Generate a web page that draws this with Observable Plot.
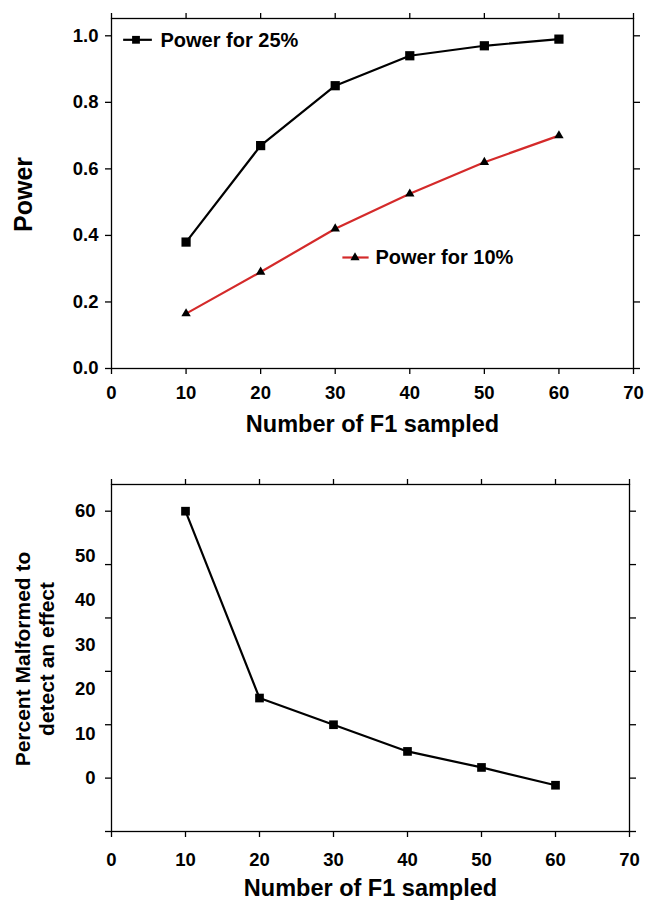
<!DOCTYPE html>
<html>
<head>
<meta charset="utf-8">
<script src="https://cdn.jsdelivr.net/npm/d3@7"></script>
<script src="https://cdn.jsdelivr.net/npm/@observablehq/plot@0.6"></script>
<style>
  html, body { margin: 0; padding: 0; background: #fff; }
  #chart { width: 645px; }
  #chart svg { display: block; }
</style>
</head>
<body>
<div id="chart"></div>
<script>
// ---- data ----
const sampleSizes = [10, 20, 30, 40, 50, 60];
const power25 = [0.38, 0.67, 0.85, 0.94, 0.97, 0.99];
const power10 = [0.165, 0.29, 0.42, 0.525, 0.62, 0.70];
const percentMalformed = [60, 18, 12, 6, 2.4, -1.6];

const xTicks = [0, 10, 20, 30, 40, 50, 60, 70];
const powerTicks = [0, 0.2, 0.4, 0.6, 0.8, 1.0];
const pctLabels = [0, 10, 20, 30, 40, 50, 60];
const pctTickMarks = [-12, 0, 12, 24, 36, 48, 60];

const legendLabels = ["Power for 25%", "Power for 10%"];
const xTitle = "Number of F1 sampled";
const powerTitle = "Power";
const pctTitle = "Percent Malformed to\ndetect an effect";

// ---- styling ----
const FONT = "'Liberation Sans', Arial, Helvetica, sans-serif";
const RED = "#d42a2a";
const LINE_W = 2.2;
const AXIS_W = 1.3;
const TICK_FS = 18.5;

const rows25 = sampleSizes.map((x, i) => ({x, y: power25[i]}));
const rows10 = sampleSizes.map((x, i) => ({x, y: power10[i]}));
const rowsPct = sampleSizes.map((x, i) => ({x, y: percentMalformed[i]}));

// horizontal line "symbol" used for legend keys
const hLine = {draw(ctx, size) { const h = Math.sqrt(size); ctx.moveTo(-h, 0); ctx.lineTo(h, 0); }};
const blank = () => "";

const baseStyle = {fontFamily: FONT, fontSize: TICK_FS + "px", fontWeight: "bold", color: "black", background: "white", overflow: "visible"};
const textStyle = {fontWeight: "bold", fill: "black", lineAnchor: "middle"};

const powerChart = Plot.plot({
  width: 645, height: 450,
  marginTop: 18, marginBottom: 82, marginLeft: 111, marginRight: 12,
  style: baseStyle,
  x: {domain: [0, 70], label: null},
  y: {domain: [0, 1.052], label: null},
  marks: [
    Plot.frame({stroke: "black", strokeWidth: AXIS_W}),
    Plot.axisX(xTicks, {anchor: "bottom", tickSize: 6, tickPadding: 11, strokeWidth: AXIS_W, fontSize: TICK_FS, label: null}),
    Plot.axisX(xTicks, {anchor: "top", tickSize: 6, tickFormat: blank, strokeWidth: AXIS_W, label: null}),
    Plot.axisY(powerTicks, {anchor: "left", tickSize: 6, tickPadding: 7, tickFormat: d3.format(".1f"), strokeWidth: AXIS_W, fontSize: TICK_FS, label: null}),
    Plot.axisY(powerTicks, {anchor: "right", tickSize: 6, tickFormat: blank, strokeWidth: AXIS_W, label: null}),
    Plot.line(rows25, {x: "x", y: "y", stroke: "black", strokeWidth: LINE_W}),
    Plot.dot(rows25, {x: "x", y: "y", symbol: d3.symbolSquare, r: 5.2, fill: "black", stroke: "none"}),
    Plot.line(rows10, {x: "x", y: "y", stroke: RED, strokeWidth: LINE_W}),
    Plot.dot(rows10, {x: "x", y: "y", symbol: d3.symbolTriangle, r: 3.5, fill: "black", stroke: "none"}),
    // legend 25%
    Plot.dot([legendLabels[0]], {frameAnchor: "top-left", dx: 26, dy: 21.3, symbol: hLine, r: 8.1, fill: "none", stroke: "black", strokeWidth: LINE_W}),
    Plot.dot([legendLabels[0]], {frameAnchor: "top-left", dx: 24.5, dy: 21.3, symbol: d3.symbolSquare, r: 4.4, fill: "black", stroke: "none"}),
    Plot.text([legendLabels[0]], {...textStyle, frameAnchor: "top-left", dx: 49, dy: 21.6, textAnchor: "start", fontSize: 20}),
    // legend 10%
    Plot.dot([legendLabels[1]], {frameAnchor: "top-left", dx: 244, dy: 239, symbol: hLine, r: 7.4, fill: "none", stroke: RED, strokeWidth: LINE_W}),
    Plot.dot([legendLabels[1]], {frameAnchor: "top-left", dx: 243.5, dy: 239, symbol: d3.symbolTriangle, r: 3.4, fill: "black", stroke: "none"}),
    Plot.text([legendLabels[1]], {...textStyle, frameAnchor: "top-left", dx: 264, dy: 239, textAnchor: "start", fontSize: 20}),
    // titles
    Plot.text([xTitle], {...textStyle, frameAnchor: "bottom", dy: 56.3, textAnchor: "middle", fontSize: 23.5}),
    Plot.text([powerTitle], {...textStyle, frameAnchor: "left", dx: -88, dy: 1, rotate: -90, textAnchor: "middle", fontSize: 25})
  ]
});

const pctChart = Plot.plot({
  width: 645, height: 450,
  marginTop: 34, marginBottom: 69, marginLeft: 111, marginRight: 16,
  style: baseStyle,
  x: {domain: [0, 70], label: null},
  y: {domain: [-12, 66], label: null},
  marks: [
    Plot.frame({stroke: "black", strokeWidth: AXIS_W}),
    Plot.axisX(xTicks, {anchor: "bottom", tickSize: 6, tickPadding: 15, strokeWidth: AXIS_W, fontSize: TICK_FS, label: null}),
    Plot.axisX(xTicks, {anchor: "top", tickSize: 6, tickFormat: blank, strokeWidth: AXIS_W, label: null}),
    Plot.axisY(pctTickMarks, {anchor: "left", tickSize: 6, tickFormat: blank, strokeWidth: AXIS_W, label: null}),
    Plot.axisY(pctTickMarks, {anchor: "right", tickSize: 6, tickFormat: blank, strokeWidth: AXIS_W, label: null}),
    Plot.axisY(pctLabels, {anchor: "left", tickSize: 0, tickPadding: 16, fontSize: TICK_FS, label: null}),
    Plot.line(rowsPct, {x: "x", y: "y", stroke: "black", strokeWidth: LINE_W}),
    Plot.dot(rowsPct, {x: "x", y: "y", symbol: d3.symbolSquare, r: 4.9, fill: "black", stroke: "none"}),
    Plot.text([xTitle], {...textStyle, frameAnchor: "bottom", dy: 57, textAnchor: "middle", fontSize: 23.5}),
    Plot.text([pctTitle], {...textStyle, frameAnchor: "left", dx: -77, dy: 1, rotate: -90, textAnchor: "middle", fontSize: 21, lineHeight: 1.16})
  ]
});

const root = document.getElementById("chart");
root.appendChild(powerChart);
root.appendChild(pctChart);
</script>
</body>
</html>
